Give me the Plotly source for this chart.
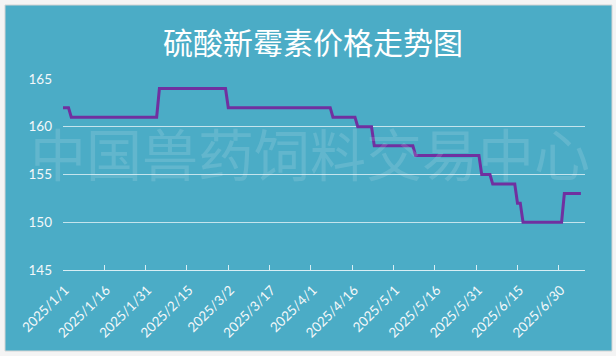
import plotly.graph_objects as go

# ---- data ----
dates = ["2025-01-01", "2025-01-03", "2025-01-04", "2025-02-04", "2025-02-05",
         "2025-03-01", "2025-03-02", "2025-04-08", "2025-04-09", "2025-04-17",
         "2025-04-18", "2025-04-23", "2025-04-24", "2025-05-08", "2025-05-09",
         "2025-06-01", "2025-06-02", "2025-06-05", "2025-06-06", "2025-06-14",
         "2025-06-15", "2025-06-16", "2025-06-17", "2025-07-01", "2025-07-02",
         "2025-07-08"]
prices = [162, 162, 161, 161, 164,
          164, 162, 162, 161, 161,
          160, 160, 158, 158, 157,
          157, 155, 155, 154, 154,
          152, 152, 150, 150, 153,
          153]
tick_dates = ["2025-01-01", "2025-01-16", "2025-01-31", "2025-02-15", "2025-03-02",
              "2025-03-17", "2025-04-01", "2025-04-16", "2025-05-01", "2025-05-16",
              "2025-05-31", "2025-06-15", "2025-06-30"]
tick_labels = ["2025/1/1", "2025/1/16", "2025/1/31", "2025/2/15", "2025/3/2",
               "2025/3/17", "2025/4/1", "2025/4/16", "2025/5/1", "2025/5/16",
               "2025/5/31", "2025/6/15", "2025/6/30"]
y_ticks = [145, 150, 155, 160, 165]
title_text = "硫酸新霉素价格走势图"
watermark = "中国兽药饲料交易中心"

W, H = 616, 356
ML, MR, MT, MB = 63, 31, 79, 86
PW, PH = W - ML - MR, H - MT - MB


def px_x(p):
    return (p - ML) / PW


def px_y(p):
    return (H - MB - p) / PH


BG = "#4BACC6"
fig = go.Figure()
fig.add_trace(go.Scatter(
    x=dates, y=prices, mode="lines",
    line=dict(color="#7030A0", width=3),
    hoverinfo="x+y", showlegend=False,
))

fig.update_layout(
    width=W, height=H,
    margin=dict(l=ML, r=MR, t=MT, b=MB, autoexpand=False),
    paper_bgcolor="#f4f4f4",
    plot_bgcolor="rgba(0,0,0,0)",
    font=dict(family="Lato, 'Noto Sans CJK SC', sans-serif", color="#f4f8fa", size=13),
    shapes=[dict(type="rect", xref="paper", yref="paper", layer="below",
                 x0=px_x(5), x1=px_x(612), y0=px_y(351), y1=px_y(5),
                 fillcolor=BG, line=dict(color="#d4d4d4", width=1))],
    annotations=[
        dict(text=title_text, xref="paper", yref="paper", x=px_x(313), y=px_y(41),
             xanchor="center", yanchor="middle", showarrow=False,
             font=dict(family="'Noto Sans CJK SC', sans-serif", size=30, color="#ffffff")),
        dict(text=watermark, xref="paper", yref="paper", x=px_x(310), y=px_y(151),
             xanchor="center", yanchor="middle", showarrow=False,
             font=dict(family="'Noto Sans CJK SC', sans-serif", size=56,
                       color="rgba(255,255,255,0.13)")),
    ],
    xaxis=dict(
        type="date", range=["2025-01-01", "2025-07-09 12:00"],
        tickvals=tick_dates, ticktext=tick_labels, tickangle=-45,
        showgrid=False, showline=True, linecolor="#d8eef4", linewidth=1,
        ticks="inside", ticklen=5, tickcolor="#d8eef4", tickwidth=1,
        tickfont=dict(size=13.5, color="#f4f8fa"),
        ticklabelstandoff=6, ticklabelshift=2,
        zeroline=False, fixedrange=True, automargin=False,
    ),
    yaxis=dict(
        range=[145, 165], tickvals=y_ticks,
        showgrid=True, gridcolor="#c4e4ed", gridwidth=1,
        showline=False, zeroline=False, ticks="",
        tickfont=dict(size=13.5, color="#f4f8fa"),
        ticklabelstandoff=10, fixedrange=True, automargin=False,
    ),
)

fig.write_html(
    "out.html",
    config={"displayModeBar": False},
    post_script="document.body.style.margin='0px';document.body.style.overflow='hidden';",
)
